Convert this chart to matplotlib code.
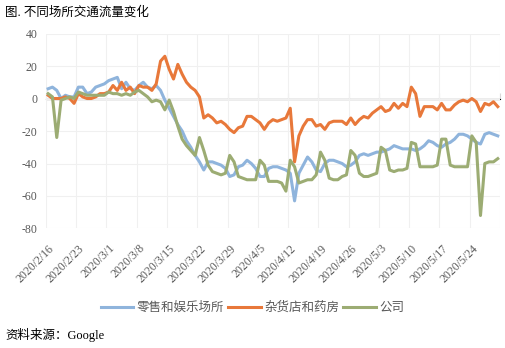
import matplotlib
matplotlib.use("Agg")
import matplotlib.pyplot as plt
import numpy as np
import pandas as pd

plt.rcParams["font.family"] = ["Liberation Serif", "Noto Sans CJK SC"]
plt.rcParams["axes.unicode_minus"] = False

# Google mobility, change vs. baseline (%), daily from 2020-02-15
dates = pd.date_range("2020-02-15", "2020-05-29", freq="D")

retail = [6, 7, 5, 0, 2, 1, 1, 7, 7, 3, 4, 7, 8, 9, 11, 12, 13, 6, 10, 6,
          5, 8, 10, 7, 6, 8, 5, -1, -6, -11, -16, -20, -26, -30, -35, -39, -44, -39, -39, -40,
          -41, -43, -48, -47, -42, -41, -38, -40, -43, -48, -48, -43, -42, -42, -43, -44, -46, -63, -46, -41,
          -36, -39, -44, -45, -40, -38, -38, -39, -40, -42, -41, -39, -35, -34, -35, -34, -33, -33, -32, -31,
          -29, -30, -31, -31, -31, -32, -31, -29, -26, -27, -29, -30, -28, -27, -25, -22, -22, -23, -25, -27,
          -28, -22, -21, -22, -23]

grocery = [2, 0, 0, 0, 1, 0, -3, 3, 1, 0, 0, 1, 3, 3, 4, 8, 5, 10, 5, 7,
           3, 8, 7, 7, 5, 9, 23, 26, 18, 12, 21, 15, 10, 7, 5, 1, -12, -10, -12, -15,
           -14, -16, -19, -21, -18, -17, -11, -11, -13, -15, -19, -15, -13, -14, -13, -12, -6, -39, -23, -17,
           -13, -13, -17, -16, -19, -15, -14, -14, -14, -16, -12, -16, -13, -11, -12, -9, -7, -5, -8, -7,
           -3, -6, -3, -5, 7, 3, -11, -5, -5, -5, -7, -3, -7, -7, -4, -2, -1, -2, 0, -2,
           -8, -3, -4, -2, -5]

workplaces = [3, 1, -24, -1, 0, 1, 0, 4, 3, 2, 2, 2, 2, 2, 4, 3, 3, 2, 3, 2,
              4, 5, 3, 1, -2, -1, -2, -7, -1, -8, -17, -25, -29, -32, -35, -24, -32, -41, -45, -46,
              -47, -46, -35, -39, -48, -49, -50, -50, -50, -38, -41, -51, -51, -51, -52, -57, -38, -42, -52, -51,
              -50, -50, -47, -33, -38, -49, -50, -50, -48, -47, -32, -35, -46, -48, -48, -47, -46, -30, -32, -44,
              -45, -44, -44, -43, -27, -28, -42, -42, -42, -42, -41, -25, -25, -41, -42, -42, -42, -42, -23, -27,
              -72, -40, -39, -39, -37]

series_names = ["零售和娱乐场所", "杂货店和药房", "公司"]
series_colors = ["#8fb4dc", "#e8783a", "#9cac73"]
y_ticks = [-80, -60, -40, -20, 0, 20, 40]

text_grey = "#595959"
axis_grey = "#d9d9d9"
grid_grey = "#f0f0f0"

fig = plt.figure(figsize=(5.05, 3.48), dpi=100)
ax = fig.add_axes([0.091, 0.3434, 0.899, 0.5603])

x = np.arange(len(dates))
for vals, name, col in zip([retail, grocery, workplaces], series_names, series_colors):
    ax.plot(x, vals, color=col, lw=2.2, label=name, solid_joinstyle="round", zorder=3)

ax.set_xlim(-0.5, len(dates) - 0.5)
ax.set_ylim(y_ticks[0], y_ticks[-1])
ax.set_yticks(y_ticks)

# weekly labels from 2/16, boundaries between weeks carry the tick marks
lab_idx = x[1::7]
ax.set_xticks(lab_idx)
ax.set_xticklabels([f"{d.year}/{d.month}/{d.day}" for d in dates[1::7]],
                   rotation=45, ha="right", va="center", rotation_mode="anchor")
week_edges = np.arange(-0.5, len(dates), 7)
ax.set_xticks(week_edges, minor=True)

ax.grid(which="major", axis="y", color=grid_grey, lw=0.8, zorder=0)
ax.grid(which="minor", axis="x", color=grid_grey, lw=0.8, zorder=0)
ax.tick_params(axis="x", which="both", length=0, pad=13, labelsize=8.5, labelcolor=text_grey)
ax.tick_params(axis="y", length=0, pad=6, labelsize=8.5, labelcolor=text_grey)
for s in ax.spines.values():
    s.set_visible(False)

# category axis sits on the zero line
ax.axhline(0, color=axis_grey, lw=1, zorder=1)
ylo, yhi = ax.get_ylim()
sec = ax.secondary_xaxis((0 - ylo) / (yhi - ylo))
sec.set_xticks(week_edges)
sec.set_xticklabels([])
sec.tick_params(length=4, color=axis_grey, width=0.8)
sec.spines["bottom"].set_color(axis_grey)

leg = fig.legend(loc="center", bbox_to_anchor=(0.5, 1 - 308 / 348), ncol=3, frameon=False,
                 fontsize=9, handlelength=2.6, handletextpad=0.3, columnspacing=0.3)
for t in leg.get_texts():
    t.set_color(text_grey)

fig.text(5 / 505, 1 - 12 / 348, "图. 不同场所交通流量变化", va="center", ha="left", fontsize=9)
fig.text(5 / 505, 1 - 335 / 348, "资料来源：Google", va="center", ha="left", fontsize=9)

fig.savefig("out.png", dpi=100, facecolor="white")
